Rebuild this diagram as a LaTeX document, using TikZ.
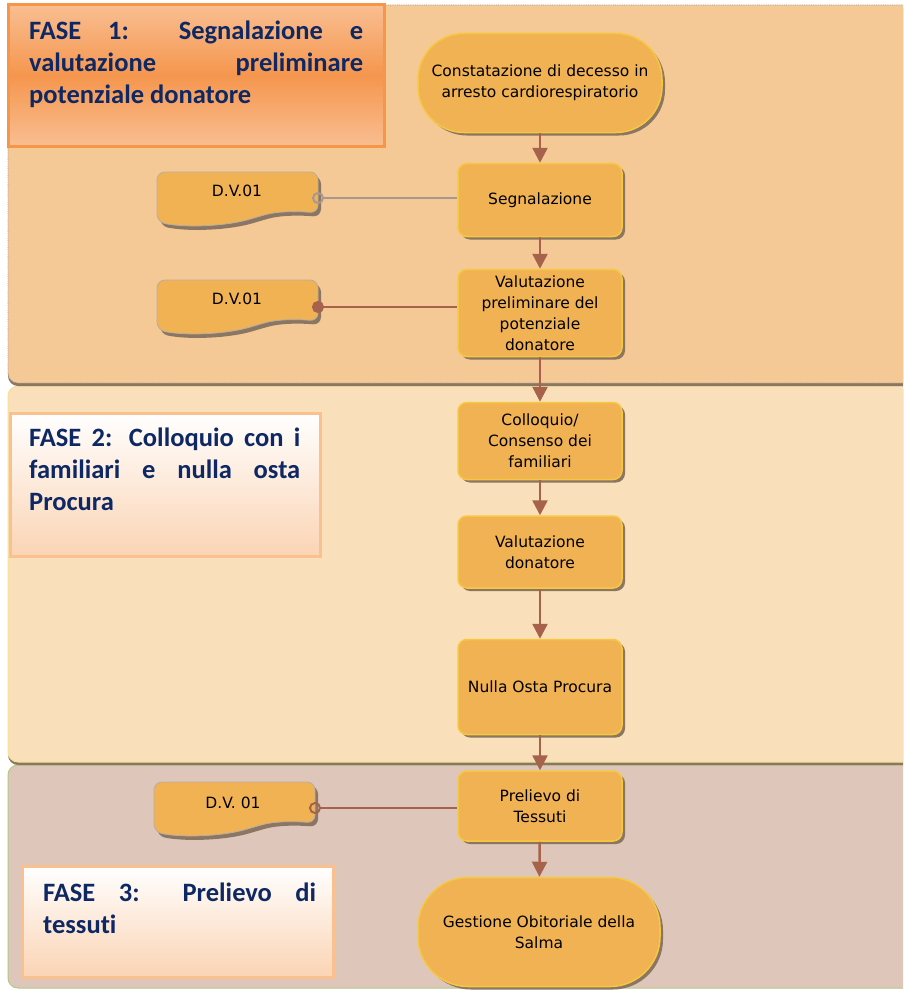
\documentclass[tikz,border=0pt]{standalone}
\usepackage{fontspec}
\setmainfont{DejaVu Sans}
\newfontfamily\fasefont[Ligatures=NoCommon]{Carlito}
\usetikzlibrary{arrows.meta,shadows}

\definecolor{laneA}{RGB}{244,201,150}
\definecolor{laneB}{RGB}{249,223,186}
\definecolor{laneC}{RGB}{223,198,187}
\definecolor{boxfill}{RGB}{241,178,84}
\definecolor{boxline}{RGB}{246,200,64}
\definecolor{shadec}{RGB}{138,118,98}
\definecolor{arrowc}{RGB}{166,98,74}
\definecolor{linkgray}{RGB}{168,152,142}
\definecolor{navy}{RGB}{14,40,100}
\definecolor{faseA}{RGB}{245,150,78}
\definecolor{faseAlight}{RGB}{249,190,145}
\definecolor{faseline}{RGB}{247,150,70}
\definecolor{peach}{RGB}{251,212,180}
\definecolor{peachline}{RGB}{250,192,144}
\definecolor{greenline}{RGB}{180,200,130}
\definecolor{yellowline}{RGB}{245,225,150}

\begin{document}
\begin{tikzpicture}[x=1pt,y=-1pt,
  proc/.style={draw=boxline, line width=1.5pt, fill=boxfill, rounded corners=9pt,
    minimum width=164pt, align=center, font=\fontsize{15.5}{21}\selectfont,
    drop shadow={shadow xshift=3pt,shadow yshift=-3pt,fill=shadec,opacity=1}},
  term/.style={proc, rounded corners=46pt, minimum width=244pt},
  flow/.style={arrowc, line width=2.5pt, -{Triangle[length=15pt,width=15pt]}},
  link/.style={line width=2.5pt},
  doctxt/.style={font=\fontsize{15.5}{21}\selectfont},
  fasetxt/.style={anchor=north west, inner sep=0pt, align=justify, text=navy,
    font=\fasefont\bfseries\fontsize{26.5}{32}\selectfont},
  docu/.pic={
    \fill[shadec, rounded corners=8pt] (3,4) -- (3,54) .. controls (33,60) and (73,58) .. (103,49)
      .. controls (128,42) and (153,44) .. (164,45) -- (164,4) -- cycle;
    \filldraw[fill=boxfill, draw=shadec!60, line width=0.8pt, rounded corners=8pt] (0,0) -- (0,50)
      .. controls (30,56) and (70,54) .. (100,45) .. controls (125,38) and (150,40) .. (161,41)
      -- (161,0) -- cycle;
  }]
\useasboundingbox (0,0) rectangle (903,990);
\fill[white] (0,0) rectangle (903,990);
\clip (0,0) rectangle (903,990);

% lanes
\fill[laneC, draw=greenline, line width=1pt, rounded corners=10pt] (8,765) rectangle (940,988);
\fill[laneB, draw=yellowline, line width=1pt, rounded corners=10pt,
  drop shadow={shadow xshift=0pt,shadow yshift=-3pt,fill=shadec,opacity=1}] (8,386) rectangle (940,762);
\fill[laneA, draw=linkgray, densely dotted, line width=0.8pt, rounded corners=10pt,
  drop shadow={shadow xshift=0pt,shadow yshift=-3pt,fill=shadec,opacity=1}] (8,5) rectangle (940,383);

% fasi
\shadedraw[top color=faseAlight, bottom color=faseAlight, middle color=faseA, draw=faseline, line width=3pt]
  (8,5) rectangle (384,146);
\node[fasetxt, text width=334pt] (f1) at (29,21) {FASE 1: Segnalazione e\linebreak valutazione preliminare\linebreak potenziale donatore};
\shadedraw[top color=white, bottom color=peach, draw=peachline, line width=3pt]
  (10,413) rectangle (320,556);
\node[fasetxt, text width=271pt] (f2) at (29,428) {FASE 2: Colloquio con i\linebreak familiari e nulla osta\linebreak Procura};
\shadedraw[top color=white, bottom color=peach, draw=peachline, line width=3pt]
  (22,866) rectangle (333,977);
\node[fasetxt, text width=273pt] (f3) at (43,883) {FASE 3: Prelievo di\linebreak tessuti};

% flusso
\node[term, minimum height=99pt] (start) at (540,83) {Constatazione di decesso in\\arresto cardiorespiratorio};
\node[proc, minimum height=73pt] (seg) at (540,200) {Segnalazione};
\node[proc, minimum height=87pt] (valprel) at (540,313) {Valutazione\\preliminare del\\potenziale\\donatore};
\node[proc, minimum height=77pt] (coll) at (540,441) {Colloquio/\\Consenso dei\\familiari};
\node[proc, minimum height=72pt] (valdon) at (540,552) {Valutazione\\donatore};
\node[proc, minimum height=95pt] (nulla) at (540,687) {Nulla Osta Procura};
\node[proc, minimum height=70pt] (prel) at (540,806) {Prelievo di\\Tessuti};
\node[term, minimum width=242pt, minimum height=109pt, rounded corners=50pt] (gest) at (539,932) {Gestione Obitoriale della\\Salma};

\draw[flow] (start) -- (seg);
\draw[flow] (seg) -- (valprel);
\draw[flow] (valprel) -- (coll);
\draw[flow] (coll) -- (valdon);
\draw[flow] (valdon) -- (nulla);
\draw[flow] (nulla) -- (prel);
\draw[flow] (prel) -- (gest);

% documenti
\pic at (157,172) {docu};
\node[doctxt] (dv1) at (237,191) {D.V.01};
\coordinate (dv1r) at (312,198);
\pic at (157,280) {docu};
\node[doctxt] (dv2) at (237,299) {D.V.01};
\coordinate (dv2r) at (312,307);
\pic at (154,782) {docu};
\node[doctxt] (dv3) at (233,803) {D.V. 01};
\coordinate (dv3r) at (309,808);

\draw[link, linkgray, {Circle[open,length=12pt,width=12pt,line width=2pt]}-] (dv1r) -- (dv1r -| seg.west);
\draw[link, arrowc, {Circle[length=12pt,width=12pt]}-] (dv2r) -- (dv2r -| valprel.west);
\draw[link, arrowc, {Circle[open,length=12pt,width=12pt,line width=2pt]}-] (dv3r) -- (dv3r -| prel.west);
\end{tikzpicture}
\end{document}
